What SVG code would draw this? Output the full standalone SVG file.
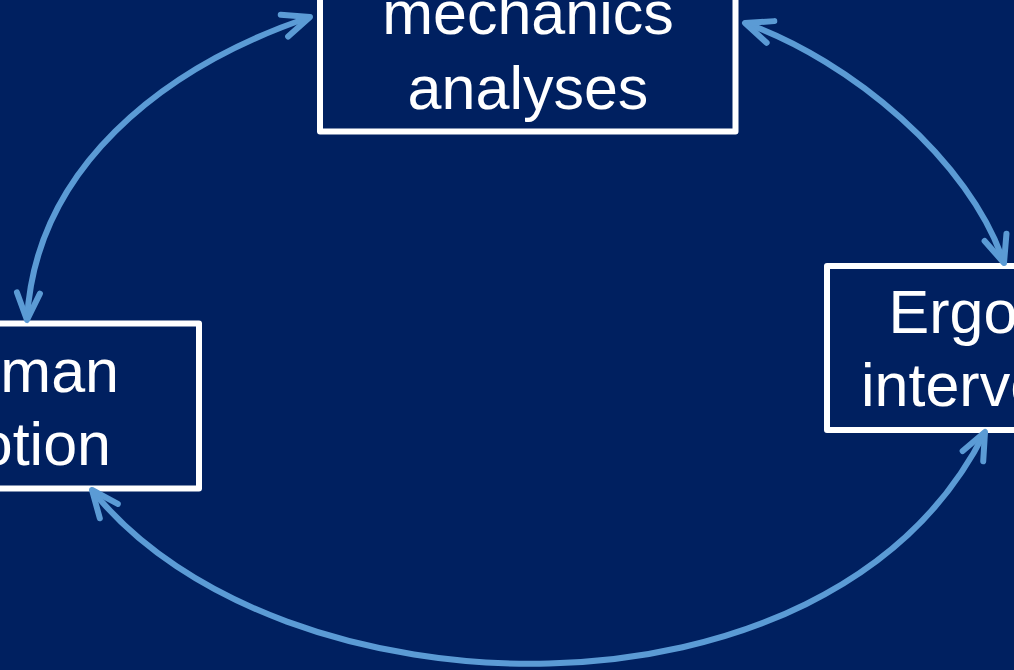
<svg xmlns="http://www.w3.org/2000/svg" width="1014" height="670" viewBox="0 0 1014 670">
  <style>
    .box { fill: none; stroke: #FFFFFF; stroke-width: 6; stroke-linejoin: round; }
    .lbl { font-family: "Liberation Sans", Arial, sans-serif; font-size: 61px; fill: #FFFFFF; }
    .conn { fill: none; stroke: #5B9BD5; stroke-width: 6; marker-start: url(#chev); marker-end: url(#chev); }
  </style>
  <defs>
    <marker id="chev" markerUnits="userSpaceOnUse" viewBox="-30 -15 32 30" refX="0" refY="0" markerWidth="32" markerHeight="30" orient="auto-start-reverse" overflow="visible">
      <path d="M-27,-11.5 L0,0 L-27,11.5" fill="none" stroke="#5B9BD5" stroke-width="6" stroke-linecap="round" stroke-linejoin="round"/>
    </marker>
  </defs>
  <rect x="0" y="0" width="1014" height="670" fill="#002060"/>

  <g id="node-biomechanics">
    <rect class="box" x="320" y="-100" width="415.5" height="231.5"/>
    <text class="lbl" x="528" y="33.5" text-anchor="middle">mechanics</text>
    <text class="lbl" x="528" y="108.5" text-anchor="middle">analyses</text>
  </g>

  <g id="node-human-motion">
    <rect class="box" x="-100" y="323.5" width="299" height="165"/>
    <text class="lbl" x="119" y="392" text-anchor="end">man</text>
    <text class="lbl" x="111" y="464.5" text-anchor="end">otion</text>
  </g>

  <g id="node-ergonomic">
    <rect class="box" x="827" y="266" width="300" height="164"/>
    <text class="lbl" x="888.5" y="332.5">Ergo</text>
    <text class="lbl" x="861" y="405.5">interve</text>
  </g>

  <g id="connectors">
    <path class="conn" d="M27,320 C35,170 160,68 310,17"/>
    <path class="conn" d="M745,23 C850,60 970,160 1004,263"/>
    <path class="conn" d="M92,490 C275,720 830,742 985,432"/>
  </g>
</svg>
